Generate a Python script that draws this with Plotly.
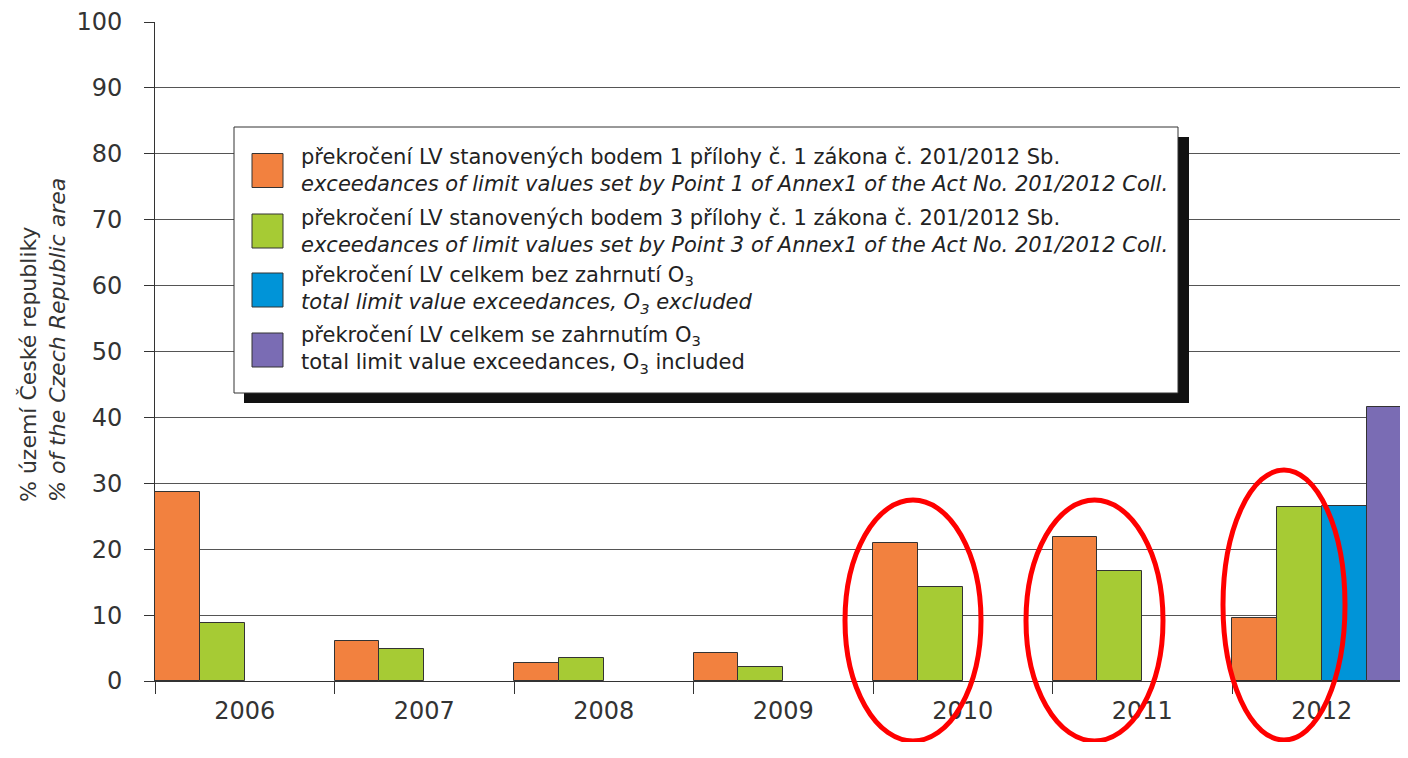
import plotly.graph_objects as go

years = ["2006", "2007", "2008", "2009", "2010", "2011", "2012"]
point1 = [28.7, 6.1, 2.7, 4.2, 21.0, 21.8, 9.5]
point3 = [8.85, 4.8, 3.5, 2.1, 14.3, 16.7, 26.4]
total_excl_o3 = [None, None, None, None, None, None, 26.6]
total_incl_o3 = [None, None, None, None, None, None, 41.6]

names = [
    "překročení LV stanovených bodem 1 přílohy č. 1 zákona č. 201/2012 Sb.<br><i>exceedances of limit values set by Point 1 of Annex1 of the Act No. 201/2012 Coll.</i>",
    "překročení LV stanovených bodem 3 přílohy č. 1 zákona č. 201/2012 Sb.<br><i>exceedances of limit values set by Point 3 of Annex1 of the Act No. 201/2012 Coll.</i>",
    "překročení LV celkem bez zahrnutí O<sub>3</sub><br><i>total limit value exceedances, O<sub>3</sub> excluded</i>",
    "překročení LV celkem se zahrnutím O<sub>3</sub><br>total limit value exceedances, O<sub>3</sub> included",
]
colors = ["#F2813F", "#A6CB34", "#0094D8", "#7A6CB4"]
series = [point1, point3, total_excl_o3, total_incl_o3]

FONT = "DejaVu Sans, Liberation Sans, Arial, sans-serif"
OFF = 8  # page body margin offset
W, H = 1408 - OFF, 758 - 3 * OFF
PLOT_BOTTOM = 681  # screen px
L, R, T = 155 - OFF, 0, 22 - OFF
B = H - (PLOT_BOTTOM - OFF)
PW, PH = W - L - R, H - T - B


def px(x):
    # x given in screen (reference) pixels
    return (x - OFF - L) / PW


def py(y):
    return (H - B - (y - OFF)) / PH


fig = go.Figure()
for vals, col, nm in zip(series, colors, names):
    fig.add_trace(go.Bar(
        x=years, y=vals, name=nm, marker=dict(color=col, line=dict(color="#333333", width=1)),
        showlegend=False,
    ))

shapes = []
annotations = []

# legend shadow + box
shapes.append(dict(type="rect", xref="paper", yref="paper", x0=px(244), x1=px(1189), y0=py(137), y1=py(403),
                   fillcolor="#111111", line=dict(width=0), layer="above"))
shapes.append(dict(type="rect", xref="paper", yref="paper", x0=px(234), x1=px(1178), y0=py(127), y1=py(393),
                   fillcolor="white", line=dict(color="#333333", width=1), layer="above"))

centers = [170.5, 231, 290, 350]
for c, col, nm in zip(centers, colors, names):
    shapes.append(dict(type="rect", xref="paper", yref="paper", x0=px(252), x1=px(283), y0=py(c - 17), y1=py(c + 17),
                       fillcolor=col, line=dict(color="#333333", width=1), layer="above"))
    annotations.append(dict(xref="paper", yref="paper", x=px(299), y=py(c), xanchor="left", yanchor="middle",
                            text=nm, showarrow=False, align="left",
                            font=dict(family=FONT, size=21, color="#222222")))

# red ellipses
for (x0, x1, y0, y1) in [(845, 981, 500, 741), (1026, 1163, 500, 741), (1223, 1345, 470, 740)]:
    shapes.append(dict(type="circle", xref="paper", yref="paper", x0=px(x0), x1=px(x1), y0=py(y1), y1=py(y0),
                       line=dict(color="#FF0000", width=5), fillcolor="rgba(0,0,0,0)", layer="above"))

# y-axis title
annotations.append(dict(xref="paper", yref="paper", x=px(43), y=py(340), xanchor="center", yanchor="middle",
                        textangle=-90, showarrow=False, align="left",
                        text="% území České republiky<br><i>% of the Czech Republic area</i>",
                        font=dict(family=FONT, size=22, color="#333333")))

fig.update_layout(
    width=W, height=H,
    margin=dict(l=L, r=R, t=T, b=B, pad=0, autoexpand=False),
    paper_bgcolor="white", plot_bgcolor="white",
    barmode="group", bargap=0, bargroupgap=0,
    shapes=shapes, annotations=annotations,
    font=dict(family=FONT, color="#333333"),
)
fig.update_xaxes(
    type="category", range=[-0.5, 6.48], tickson="boundaries", ticks="outside", ticklen=12,
    tickcolor="#333333", showline=True, linecolor="#333333", linewidth=1, showgrid=False,
    tickfont=dict(family=FONT, size=24, color="#333333"), ticklabelstandoff=8, automargin=False,
)
fig.update_yaxes(
    range=[0, 100], dtick=10, tick0=0, ticks="outside", ticklen=10, tickcolor="#333333",
    showline=True, linecolor="#333333", linewidth=1, showgrid=True, gridcolor="#555555", gridwidth=1,
    zeroline=False, tickfont=dict(family=FONT, size=24, color="#333333"), ticklabelstandoff=17,
    automargin=False,
)

fig.write_html("out.html")
